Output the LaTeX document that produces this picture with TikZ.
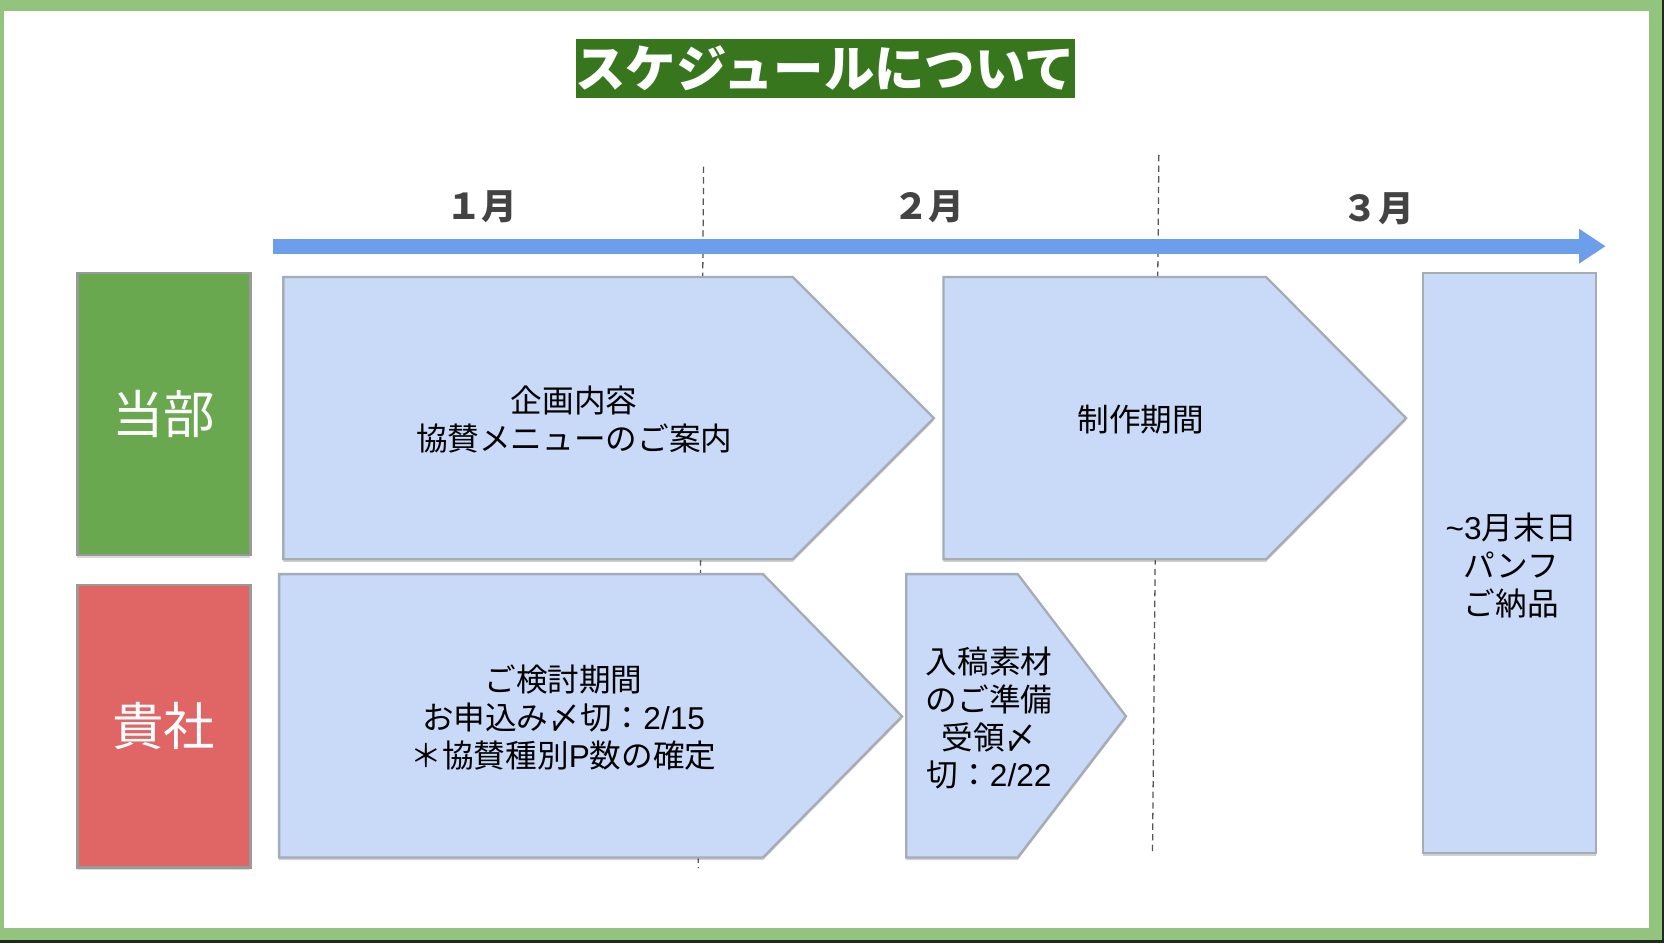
\documentclass[tikz,border=0pt]{standalone}
\usepackage{fontspec}
\setmainfont{Noto Sans CJK JP}
\newfontfamily\lat{Liberation Sans}
\usetikzlibrary{arrows.meta,shadows}
\definecolor{frameg}{HTML}{93C47D}
\definecolor{framedk}{HTML}{1E2A1E}
\definecolor{titleg}{HTML}{38761D}
\definecolor{monthc}{HTML}{434343}
\definecolor{tlblue}{HTML}{6D9EEB}
\definecolor{boxfill}{HTML}{C9DAF8}
\definecolor{boxline}{HTML}{A6ACB6}
\definecolor{labline}{HTML}{999999}
\definecolor{lgreen}{HTML}{6AA84F}
\definecolor{lred}{HTML}{E06666}
\definecolor{dashc}{HTML}{555555}
\tikzset{
  phase/.style={fill=boxfill, draw=boxline, line width=2.2pt, line join=miter,
    drop shadow={shadow xshift=0pt, shadow yshift=-2.5pt, fill=black, opacity=0.18}},
  lab/.style={draw=labline, line width=2.2pt, text=white, inner sep=0pt,
    font=\fontsize{48.5}{54}\selectfont, minimum width=163pt, minimum height=266pt,
    drop shadow={shadow xshift=0pt, shadow yshift=-2.5pt, fill=black, opacity=0.15}},
  btxt/.style={align=center, inner sep=0pt, text=black, font=\fontsize{29.8}{35.5}\selectfont},
  month/.style={inner sep=0pt, text=monthc, font=\bfseries\fontsize{33.5}{38}\selectfont},
  sep/.style={draw=dashc, line width=1.2pt, dash pattern=on 6pt off 4pt},
}
\begin{document}
\begin{tikzpicture}[x=1pt,y=-1pt]
\useasboundingbox (0,0) rectangle (1568,889);
% frame
\fill[frameg] (0,0) rectangle (1568,889);
\fill[framedk] (0,886) rectangle (1568,889);
\fill[framedk] (1566,0) rectangle (1568,889);
\fill[white] (4,10) rectangle (1554,874);
% title
\node[fill=titleg, minimum width=469pt, minimum height=55pt, inner sep=0pt,
  text=white, font=\bfseries\fontsize{47.5}{50}\selectfont] (title) at (777.5,64.5) {スケジュールについて};
% month separators
\coordinate (s1a) at (663,157); \coordinate (s1b) at (658,818);
\coordinate (s2a) at (1092,146); \coordinate (s2b) at (1086,805);
\draw[sep] (s1a) -- (s1b);
\draw[sep] (s2a) -- (s2b);
% month labels
\node[month] (m1) at (454,195) {１月};
\node[month] (m2) at (875,195) {２月};
\node[month] (m3) at (1299,197) {３月};
% timeline arrow
\coordinate (tl0) at (257,232); \coordinate (tl1) at (1513,232);
\draw[tlblue, line width=14pt, -{Triangle[length=25pt,width=31pt]}] (tl0) -- (tl1);
% row labels
\node[lab, fill=lgreen] (tobu) at (154.5,390) {当部};
\node[lab, fill=lred] (kisha) at (154.5,684.5) {貴社};
% phase shapes
\draw[phase] (267,261) -- (747,261) -- (880,394) -- (747,527) -- (267,527) -- cycle;
\draw[phase] (889,261) -- (1193,261) -- (1325,394) -- (1193,527) -- (889,527) -- cycle;
\draw[phase] (263,541) -- (719,541) -- (850,675) -- (719,808) -- (263,808) -- cycle;
\draw[phase] (854,541) -- (959,541) -- (1061,675) -- (959,808) -- (854,808) -- cycle;
\draw[phase] (1341,257) rectangle (1504,804);
% texts
\node[btxt] (t1) at (541,395) {企画内容\\協賛メニューのご案内};
\node[btxt] (t2) at (1075,395) {制作期間};
\node[btxt] (t3) at (531,676) {ご検討期間\\お申込み〆切：{\lat 2/15}\\＊協賛種別{\lat P}数の確定};
\node[btxt] (t4) at (932,677) {入稿素材\\のご準備\\受領〆\\切：{\lat 2/22}};
\node[btxt] (t5) at (1424,533) {{\lat\textasciitilde3}月末日\\パンフ\\ご納品};
\end{tikzpicture}
\end{document}
